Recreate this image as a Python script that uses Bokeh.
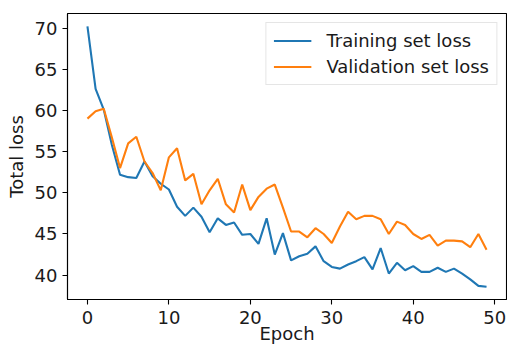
from bokeh.plotting import figure
from bokeh.models import Range1d, FixedTicker, Legend, LegendItem
from bokeh.embed import file_html
from bokeh.resources import INLINE

epochs = list(range(50))
train_loss = [70.2, 62.6, 60.1, 55.8, 52.2, 51.9, 51.8, 53.8, 52.0, 51.1,
              50.4, 48.3, 47.2, 48.2, 47.1, 45.2, 46.9, 46.1, 46.4, 44.9,
              45.0, 43.8, 46.9, 42.5, 45.1, 41.8, 42.3, 42.6, 43.5, 41.7,
              41.0, 40.8, 41.3, 41.7, 42.2, 40.7, 43.3, 40.2, 41.5, 40.6,
              41.1, 40.4, 40.4, 40.9, 40.4, 40.8, 40.2, 39.5, 38.7, 38.6]
val_loss = [59.0, 59.9, 60.2, 56.7, 53.0, 56.0, 56.8, 53.8, 52.4, 50.3,
            54.3, 55.4, 51.5, 52.3, 48.6, 50.3, 51.7, 48.6, 47.6, 51.0,
            47.9, 49.5, 50.5, 51.0, 48.2, 45.3, 45.3, 44.6, 45.7, 45.0,
            43.9, 45.9, 47.7, 46.8, 47.2, 47.2, 46.8, 45.0, 46.5, 46.1,
            45.0, 44.4, 44.9, 43.6, 44.2, 44.2, 44.1, 43.4, 45.0, 43.1]
x_ticks = [0, 10, 20, 30, 40, 50]
y_ticks = [40, 45, 50, 55, 60, 65, 70]
series_names = ["Training set loss", "Validation set loss"]
series_colors = ["#1f77b4", "#ff7f0e"]
x_title = "Epoch"
y_title = "Total loss"

FONT = "DejaVu Sans"
FS = "18px"
TXT = "#1a1a1a"

p = figure(width=507, height=347, output_backend="svg", toolbar_location=None,
           x_range=Range1d(-2.45, 51.45), y_range=Range1d(37.05, 71.76),
           min_border_left=67, min_border_right=1, min_border_top=13,
           min_border_bottom=48)

r1 = p.line(epochs, train_loss, line_color=series_colors[0], line_width=2.1)
r2 = p.line(epochs, val_loss, line_color=series_colors[1], line_width=2.1)

p.xgrid.visible = False
p.ygrid.visible = False
p.outline_line_color = "black"
p.outline_line_width = 1.1
p.background_fill_color = "white"
p.border_fill_color = "white"

for ax in (p.xaxis[0], p.yaxis[0]):
    ax.axis_line_color = "black"
    ax.axis_line_width = 1.1
    ax.major_tick_line_color = "black"
    ax.major_tick_line_width = 1.1
    ax.major_tick_out = 5
    ax.major_tick_in = 0
    ax.minor_tick_line_color = None
    ax.major_label_text_font = FONT
    ax.major_label_text_font_size = FS
    ax.major_label_text_color = TXT
    ax.axis_label_text_font = FONT
    ax.axis_label_text_font_size = FS
    ax.axis_label_text_font_style = "normal"
    ax.axis_label_text_color = TXT

p.xaxis[0].ticker = FixedTicker(ticks=x_ticks)
p.yaxis[0].ticker = FixedTicker(ticks=y_ticks)
p.xaxis[0].axis_label = x_title
p.yaxis[0].axis_label = y_title
p.xaxis[0].major_label_standoff = 6
p.xaxis[0].axis_label_standoff = -4
p.yaxis[0].major_label_standoff = 5
p.yaxis[0].axis_label_standoff = 5

legend = Legend(items=[LegendItem(label=series_names[0], renderers=[r1]),
                       LegendItem(label=series_names[1], renderers=[r2])],
                location="top_right")
legend.margin = 9
legend.padding = 7
legend.spacing = 5
legend.glyph_width = 38
legend.glyph_height = 21
legend.label_height = 21
legend.label_standoff = 15
legend.label_text_font = FONT
legend.label_text_font_size = FS
legend.label_text_color = TXT
legend.border_line_color = "#cccccc"
legend.border_line_width = 1
legend.background_fill_alpha = 0.8
p.add_layout(legend, "center")

open("out.html", "w").write(file_html(p, INLINE))
